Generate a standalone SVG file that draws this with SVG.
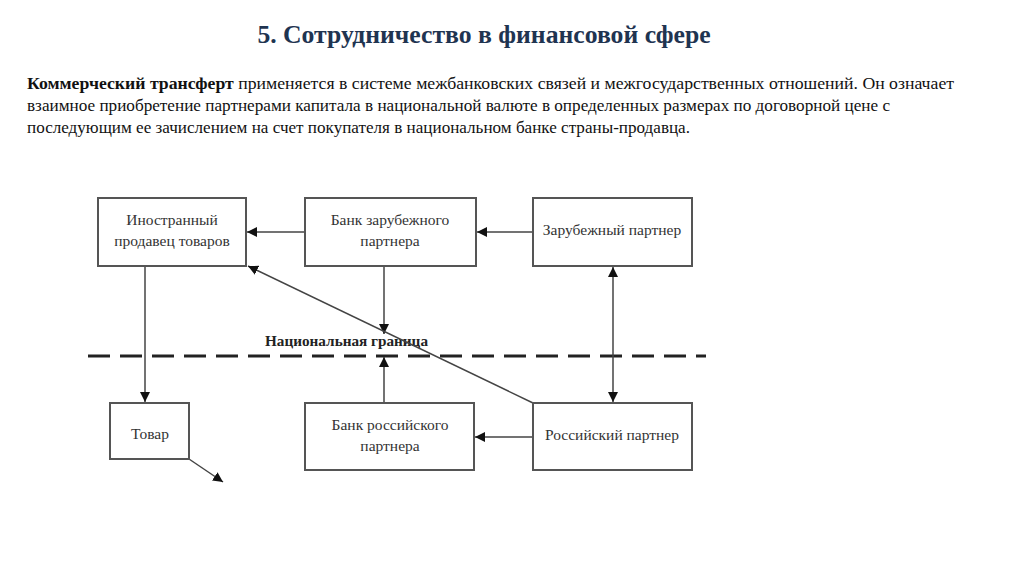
<svg xmlns="http://www.w3.org/2000/svg" width="1024" height="574" viewBox="0 0 1024 574">
<style>
.box{fill:#fff;stroke:#555;stroke-width:2}
.bt{font-family:"Liberation Serif",serif;font-size:15.5px;fill:#333;text-anchor:middle}
.ln{stroke:#444;stroke-width:1.5;fill:none}
.p{font-family:"Liberation Serif",serif;font-size:17px;fill:#111}
</style>
<defs>
<marker id="ah" viewBox="0 0 10 10" refX="10" refY="5" markerWidth="10" markerHeight="10" markerUnits="userSpaceOnUse" orient="auto-start-reverse">
<path d="M0,0 L10,5 L0,10 z" fill="#111"/>
</marker>
</defs>
<rect width="1024" height="574" fill="#fff"/>
<text x="484" y="43" text-anchor="middle" font-family="Liberation Serif,serif" font-size="25.7" font-weight="bold" fill="#1f3451">5. Сотрудничество в финансовой сфере</text>
<text class="p" x="27" y="89" textLength="927" lengthAdjust="spacingAndGlyphs"><tspan font-weight="bold">Коммерческий трансферт</tspan> применяется в системе межбанковских связей и межгосударственных отношений. Он означает</text>
<text class="p" x="27" y="111" textLength="863" lengthAdjust="spacingAndGlyphs">взаимное приобретение партнерами капитала в национальной валюте в определенных размерах по договорной цене с</text>
<text class="p" x="27" y="133" textLength="663" lengthAdjust="spacingAndGlyphs">последующим ее зачислением на счет покупателя в национальном банке страны-продавца.</text>

<g id="border">
<line x1="88" y1="356" x2="706" y2="356" stroke="#222" stroke-width="3" stroke-dasharray="22,10"/>
<text x="265" y="346" font-family="Liberation Serif,serif" font-size="14" font-weight="bold" fill="#222" textLength="163" lengthAdjust="spacingAndGlyphs">Национальная граница</text>
</g>

<g id="connectors">
<line class="ln" x1="305" y1="232" x2="247" y2="232" marker-end="url(#ah)"/>
<line class="ln" x1="533" y1="232" x2="477" y2="232" marker-end="url(#ah)"/>
<line class="ln" x1="145" y1="266" x2="145" y2="402" marker-end="url(#ah)"/>
<line class="ln" x1="384" y1="266" x2="384" y2="334" marker-end="url(#ah)"/>
<line class="ln" x1="384" y1="403" x2="384" y2="357" marker-end="url(#ah)"/>
<line class="ln" x1="533" y1="403" x2="248" y2="266" marker-end="url(#ah)"/>
<line class="ln" x1="613" y1="267" x2="613" y2="402" marker-start="url(#ah)" marker-end="url(#ah)"/>
<line class="ln" x1="533" y1="437" x2="475" y2="437" marker-end="url(#ah)"/>
<line class="ln" x1="189" y1="459" x2="223" y2="482" marker-end="url(#ah)"/>
</g>

<g id="n1"><rect class="box" x="98" y="198" width="148" height="68"/><text class="bt" x="172" y="225">Иностранный</text><text class="bt" x="172" y="246">продавец товаров</text></g>
<g id="n2"><rect class="box" x="305" y="198" width="171" height="68"/><text class="bt" x="390" y="225">Банк зарубежного</text><text class="bt" x="390" y="246">партнера</text></g>
<g id="n3"><rect class="box" x="533" y="198" width="159" height="68"/><text class="bt" x="612" y="235">Зарубежный партнер</text></g>
<g id="n4"><rect class="box" x="110" y="403" width="79" height="56"/><text class="bt" x="150" y="439">Товар</text></g>
<g id="n5"><rect class="box" x="305" y="403" width="169" height="67"/><text class="bt" x="390" y="430">Банк российского</text><text class="bt" x="390" y="451">партнера</text></g>
<g id="n6"><rect class="box" x="533" y="403" width="159" height="67"/><text class="bt" x="612" y="440">Российский партнер</text></g>
</svg>
